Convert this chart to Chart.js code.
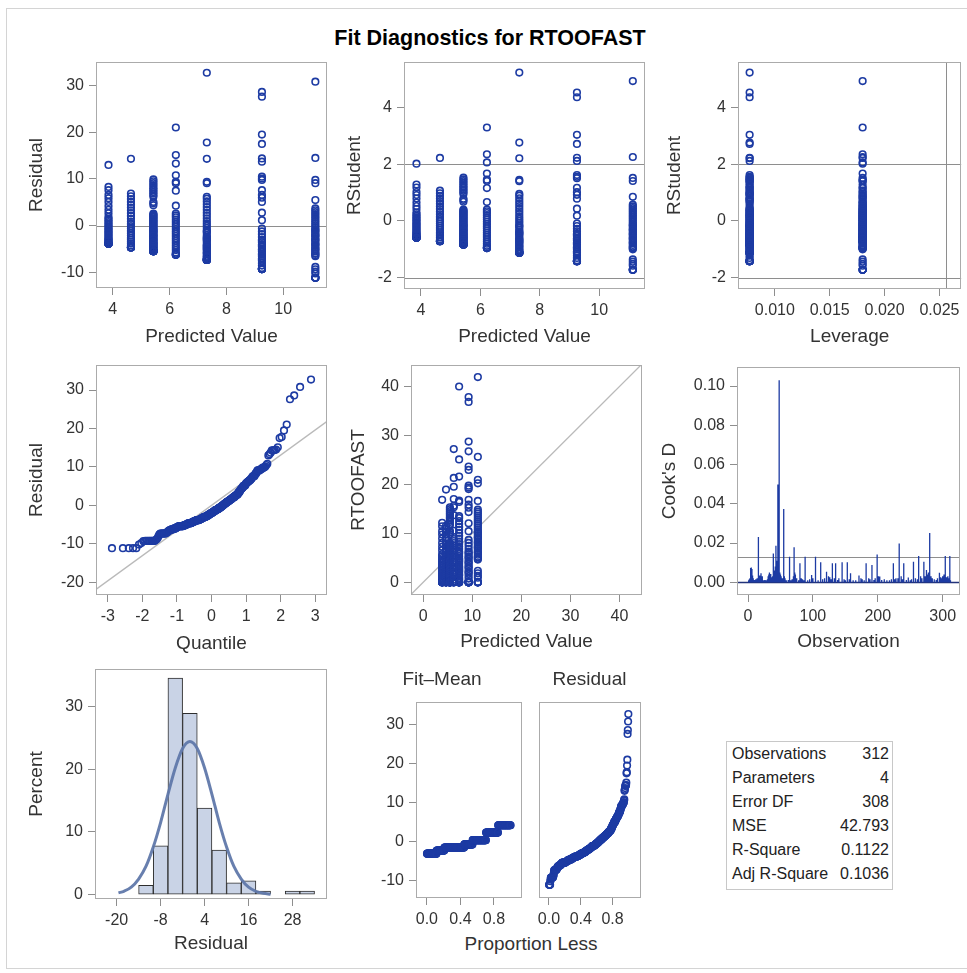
<!DOCTYPE html>
<html><head><meta charset="utf-8">
<script src="https://cdn.jsdelivr.net/npm/chart.js@4.4.0/dist/chart.umd.min.js"></script>
<style>
html,body{margin:0;padding:0;background:#fff;}
body{width:967px;height:973px;position:relative;overflow:hidden;font-family:'Liberation Sans',Arial,Helvetica,sans-serif;}
#frame{position:absolute;left:6px;top:8px;width:966px;height:961px;border:1px solid #d4d4d4;box-sizing:border-box;}
#title{position:absolute;left:0;width:980px;top:25px;text-align:center;font-weight:bold;font-size:21.5px;line-height:26px;color:#000;}
canvas{position:absolute;}
.lbl{position:absolute;font-size:19px;color:#333;white-space:nowrap;transform:translate(-50%,-50%);}
#stats{position:absolute;left:726px;top:741px;width:167px;height:149px;border:1px solid #c8c8c8;box-sizing:border-box;font-size:16px;color:#222;}
#stats table{border-collapse:collapse;width:100%;}
#stats td{height:24px;padding:0;line-height:24px;white-space:nowrap;}
#stats td.l{padding-left:5px;text-align:left;}
#stats td.v{padding-right:3px;text-align:right;}
</style></head>
<body>
<div id="frame"></div>
<div id="title">Fit Diagnostics for RTOOFAST</div>
<div id="stats"><table id="statTable"></table></div>
<div class="lbl" style="left:531px;top:944px;">Proportion Less</div>
<script>
// ---------------- DATA ----------------
const predictedGroups = [3.85, 4.64, 5.43, 6.22, 7.31, 9.25, 11.13];
const leverageGroups  = [0.018, 0.018, 0.0077, 0.018, 0.0077, 0.0077, 0.018];
const residG1 = [13.0, 8.3, 7.6, 6.6, 5.9, 5.1, 4.2, 3.4, 2.7, 1.9, 1.5, 1.1, 0.8, 0.4, 0.1, -0.3, -0.6, -0.9, -1.2, -1.5,
  -1.8, -2.1, -2.4, -2.7, -2.9, -3.1, -3.3, -3.5, -3.7, -3.85, -3.85, -3.85, -3.85, -3.85, -3.85, -3.85];
const residG2 = [14.3, 6.9, 6.3, 5.7, 5.1, 4.5, 3.9, 3.3, 2.7, 2.1, 1.5, 0.9, 0.4, -0.1, -0.6, -1.1, -1.6, -2.1, -2.6,
  -3.0, -3.4, -3.8, -4.2, -4.64, -4.64, -4.64, -4.64, -4.64, -4.64];
const residG3 = [9.9, 9.5, 9.1, 8.7, 8.3, 7.9, 7.6, 7.2, 6.9, 6.5, 6.2, 5.1, 4.8, 4.4,
  2.6, 2.4, 2.2, 2.0, 1.8, 1.6, 1.4, 1.2, 1.0, 0.8, 0.6, 0.4, 0.2, 0.0, -0.2, -0.4, -0.6, -0.8, -1.0, -1.2,
  -1.4, -1.6, -1.8, -2.0, -2.2, -2.4, -2.6, -2.8, -3.0, -3.2, -3.4, -3.6, -3.8, -4.0, -4.2, -4.4, -4.6, -4.8, -5.0, -5.1,
  -1.1, -2.1, -2.9, -3.5, -3.9, -4.3, -4.7, -5.2, -5.3, -5.43, -5.43, -5.43, -5.43, -5.43, -5.43, -5.43, -5.43, -5.43, -5.43, -5.43];
const residG4 = [21.0, 15.1, 13.3, 10.8, 9.4, 9.1, 7.5, 4.3, 2.6, 2.2, 1.8, 1.3, 0.8, 0.3, -0.2, -0.7, -1.2, -1.7, -2.2, -2.7,
  -3.2, -3.7, -4.2, -4.7, -5.2, -5.7, -6.0, -6.22, -6.22, -6.22, -6.22];
const residG5 = [32.7, 17.8, 14.3, 9.4, 9.1, 6.2, 5.8, 5.2, 4.6, 4.0, 3.4, 2.8, 2.2, 1.6, 1.0, 0.5, 0.0, -0.5, -1.0, -1.5,
  -2.0, -2.4, -2.8, -3.2, -3.6, -4.0, -4.4, -4.8, -5.2, -5.6, -6.0, -6.4, -6.8, -7.0, -3.0, -4.2, -5.0, -5.8, -6.6, -1.2,
  -2.6, -4.6, -7.31, -7.31, -7.31, -7.31, -7.31, -7.31, -7.31, -7.31];
const residG6 = [28.6, 27.6, 19.5, 17.5, 14.4, 13.7, 10.5, 10.1, 9.8, 7.6, 6.6, 6.0, 5.1, 2.8, 1.2, -0.6, -1.2, -1.8, -2.4, -3.0,
  -3.5, -4.0, -4.5, -5.0, -5.5, -6.0, -6.5, -7.0, -7.5, -8.0, -8.5, -9.0, -3.2, -4.2, -5.2, -6.2, -7.2,
  -9.25, -9.25, -9.25, -9.25, -9.25, -9.25, -9.25, -9.25];
const residG7 = [30.8, 14.5, 9.8, 9.1, 5.5, 3.7, 3.3, 2.9, 2.5, 2.1, 1.7, 1.3, 0.9, 0.5, 0.1, -0.3, -0.7, -1.1, -1.5, -1.9,
  -2.3, -2.7, -3.1, -3.5, -3.9, -4.3, -4.7, -5.1, -5.5, -5.9, -6.3, -6.5, -1.0, -2.0, -3.0, -4.0, -5.0, -6.0, -8.8, -9.3,
  -9.8, -10.2, -11.13, -11.13, -11.13, -11.13, -11.13];
const residualGroups = [residG1, residG2, residG3, residG4, residG5, residG6, residG7];

const statLabels = ['Observations', 'Parameters', 'Error DF', 'MSE', 'R-Square', 'Adj R-Square'];
const statValues = ['312', '4', '308', '42.793', '0.1122', '0.1036'];
const nObs = 312, nParm = 4, mse = 42.793;

const histMid = [-12, -8, -4, 0, 4, 8, 12, 16, 20, 24, 28, 32];
const histPct = [1.5, 7.8, 34.5, 28.9, 13.8, 7.1, 1.9, 2.2, 0.6, 0, 0.6, 0.6];
const curveX = [-19.5, -18, -16, -14, -12, -10, -8, -6, -4, -2, 0, 2, 4, 6, 8, 10, 12, 14, 16, 18, 20, 22];
const curveY = [0.3, 0.55, 1.2, 2.5, 4.5, 7.6, 11.5, 16.0, 20.2, 23.3, 24.4, 23.3, 20.2, 16.0, 11.5, 7.6, 4.5, 2.5, 1.2, 0.55, 0.23, 0.09];

const cooksObs = [1,2,3,4,5,6,7,8,9,10,12,14,16,17,18,19,20,22,24,26,28,30,31,32,33,34,35,36,37,38,39,40,41,42,43,44,45,46,47,48,
  49,50,51,52,53,54,55,56,57,59,62,64,66,68,70,71,72,73,75,78,80,82,84,86,88,92,95,98,100,104,108,112,115,118,121,124,126,128,130,133,
  135,138,140,145,148,150,153,156,158,162,166,171,174,176,179,182,186,188,191,194,196,199,201,203,206,210,214,218,221,224,226,228,231,233,236,238,240,244,
  247,250,252,255,258,261,263,266,268,271,273,275,277,278,280,282,284,287,290,292,295,297,299,300,302,304,306,308,309,311,312];
const cooksD = [0.001,0.0015,0.002,0.0072,0.0075,0.0068,0.0035,0.002,0.001,0.0012,0.0015,0.002,0.023,0.002,0.0035,0.0025,0.0046,0.003,0.001,0.0012,
  0.001,0.0015,0.003,0.004,0.005,0.003,0.0042,0.002,0.0025,0.003,0.0147,0.006,0.004,0.008,0.0186,0.011,0.009,0.0498,0.006,0.103,
  0.005,0.004,0.003,0.002,0.0015,0.002,0.0373,0.003,0.002,0.001,0.0012,0.013,0.001,0.0015,0.003,0.0178,0.005,0.004,0.002,0.001,
  0.0097,0.002,0.0015,0.001,0.013,0.001,0.0015,0.0037,0.002,0.013,0.001,0.0102,0.0015,0.002,0.0054,0.003,0.0025,0.0015,0.0097,0.002,
  0.0097,0.0012,0.002,0.0102,0.0015,0.001,0.0102,0.0015,0.0046,0.001,0.001,0.0034,0.002,0.0015,0.001,0.0097,0.002,0.0015,0.0088,0.0012,
  0.002,0.0142,0.003,0.0029,0.0012,0.0015,0.001,0.001,0.0015,0.0097,0.0015,0.002,0.002,0.0198,0.003,0.0015,0.0097,0.0012,
  0.0024,0.001,0.0015,0.0105,0.002,0.0015,0.0134,0.003,0.002,0.0105,0.003,0.0063,0.004,0.005,0.0251,0.003,0.002,0.0015,0.0012,0.002,
  0.0049,0.0025,0.002,0.003,0.004,0.0134,0.0025,0.003,0.002,0.0134,0.001];

const ticksPred = [4, 6, 8, 10];
const ticksResid = [-10, 0, 10, 20, 30];
const ticksRStud = [-2, 0, 2, 4];
const ticksLev = [0.010, 0.015, 0.020, 0.025];
const ticksQuant = [-3, -2, -1, 0, 1, 2, 3];
const ticksQQResid = [-20, -10, 0, 10, 20, 30];
const ticksObsPred = [0, 10, 20, 30, 40];
const ticksObsNo = [0, 100, 200, 300];
const ticksCook = [0, 0.02, 0.04, 0.06, 0.08, 0.10];
const ticksHistX = [-20, -8, 4, 16, 28];
const ticksPct = [0, 10, 20, 30];
const ticksProp = [0, 0.4, 0.8];
const ticksSpread = [-10, 0, 10, 20, 30];

// ---------------- derived quantities ----------------
const rootMse = Math.sqrt(mse);
function rstudent(e, h) {
  const r = e / (rootMse * Math.sqrt(1 - h));
  return r * Math.sqrt((nObs - nParm - 1) / (nObs - nParm - r * r));
}
function qnorm(p) {
  const a=[-3.969683028665376e+01,2.209460984245205e+02,-2.759285104469687e+02,1.383577518672690e+02,-3.066479806614716e+01,2.506628277459239e+00];
  const b=[-5.447609879822406e+01,1.615858368580409e+02,-1.556989798598866e+02,6.680131188771972e+01,-1.328068155288572e+01];
  const c=[-7.784894002430293e-03,-3.223964580411365e-01,-2.400758277161838e+00,-2.549732539343734e+00,4.374664141464968e+00,2.938163982698783e+00];
  const d=[7.784695709041462e-03,3.224671290700398e-01,2.445134137142996e+00,3.754408661907416e+00];
  const pl=0.02425, ph=1-pl; let q, r;
  if (p < pl) { q=Math.sqrt(-2*Math.log(p)); return (((((c[0]*q+c[1])*q+c[2])*q+c[3])*q+c[4])*q+c[5])/((((d[0]*q+d[1])*q+d[2])*q+d[3])*q+1); }
  if (p <= ph) { q=p-0.5; r=q*q; return (((((a[0]*r+a[1])*r+a[2])*r+a[3])*r+a[4])*r+a[5])*q/(((((b[0]*r+b[1])*r+b[2])*r+b[3])*r+b[4])*r+1); }
  q=Math.sqrt(-2*Math.log(1-p)); return -(((((c[0]*q+c[1])*q+c[2])*q+c[3])*q+c[4])*q+c[5])/((((d[0]*q+d[1])*q+d[2])*q+d[3])*q+1);
}
const ptsResid = [], ptsRStud = [], ptsLev = [], ptsObs = [], allRes = [], allFit = [];
residualGroups.forEach((arr, g) => {
  const p = predictedGroups[g], h = leverageGroups[g];
  arr.forEach(e => {
    const t = rstudent(e, h);
    ptsResid.push({x: p, y: e});
    ptsRStud.push({x: p, y: t});
    ptsLev.push({x: h, y: t});
    ptsObs.push({x: p, y: p + e});
    allRes.push(e); allFit.push(p);
  });
});
const nPts = allRes.length;
const meanFit = allFit.reduce((s, v) => s + v, 0) / nPts;
const sortedRes = allRes.slice().sort((u, v) => u - v);
const sortedFit = allFit.slice().sort((u, v) => u - v);
const ptsQQ = sortedRes.map((e, i) => ({x: qnorm((i + 1 - 0.375) / (nPts + 0.25)), y: e}));
const ptsSpreadRes = sortedRes.map((e, i) => ({x: (i + 0.5) / nPts, y: e}));
const ptsSpreadFit = sortedFit.map((f, i) => ({x: (i + 0.5) / nPts, y: f - meanFit}));
const needles = [];
cooksObs.forEach((o, i) => { needles.push({x: o, y: 0}, {x: o, y: cooksD[i]}, {x: o, y: null}); });

// stats table
const tbl = document.getElementById('statTable');
statLabels.forEach((l, i) => {
  const tr = document.createElement('tr');
  tr.innerHTML = '<td class="l">' + l + '</td><td class="v">' + statValues[i] + '</td>';
  tbl.appendChild(tr);
});

// ---------------- drawing ----------------
Chart.defaults.font.family = "'Liberation Sans', Arial, Helvetica, sans-serif";
Chart.defaults.color = '#333';
Chart.defaults.animation = false;
const MARK = '#1d3ba3';
const GRAYLINE = '#8e8e8e';
const BOX = '#ababab';
const TFS = 19, THALF = TFS * 1.2 / 2;

const framePlugin = {
  id: 'frame',
  beforeDatasetsDraw(chart, args, opts) {
    const {ctx, chartArea: a, scales} = chart;
    ctx.save();
    ctx.beginPath(); ctx.rect(a.left, a.top, a.right - a.left, a.bottom - a.top); ctx.clip();
    (opts.h || []).forEach(l => {
      const y = Math.round(scales.y.getPixelForValue(l.v)) + 0.5;
      ctx.strokeStyle = l.c || GRAYLINE; ctx.lineWidth = l.w || 1;
      ctx.beginPath(); ctx.moveTo(a.left, y); ctx.lineTo(a.right, y); ctx.stroke();
    });
    (opts.v || []).forEach(l => {
      const x = Math.round(scales.x.getPixelForValue(l.v)) + 0.5;
      ctx.strokeStyle = l.c || GRAYLINE; ctx.lineWidth = l.w || 1;
      ctx.beginPath(); ctx.moveTo(x, a.top); ctx.lineTo(x, a.bottom); ctx.stroke();
    });
    ctx.restore();
  },
  afterDraw(chart) {
    const {ctx, chartArea: a} = chart;
    ctx.save();
    ctx.strokeStyle = BOX; ctx.lineWidth = 1;
    ctx.strokeRect(Math.round(a.left) + 0.5, Math.round(a.top) + 0.5, Math.round(a.right - a.left) - 1, Math.round(a.bottom - a.top) - 1);
    ctx.restore();
  }
};
Chart.register(framePlugin);

function axis(o, horizontal) {
  return {
    type: 'linear', position: horizontal ? 'bottom' : 'left', min: o.min, max: o.max,
    display: o.display !== false, offset: false,
    afterBuildTicks: s => { s.ticks = o.ticks.map(v => ({value: v})); },
    afterFit: s => {
      if (horizontal) s.height = o.size; else s.width = o.size;
      s.paddingLeft = 0; s.paddingRight = 0; s.paddingTop = 0; s.paddingBottom = 0;
    },
    ticks: {
      display: o.labels !== false,
      callback: v => (o.fmt ? o.fmt(v) : String(v)),
      font: {size: 16}, color: '#333', padding: horizontal ? 5 : 5,
      maxRotation: 0, minRotation: 0, autoSkip: false
    },
    grid: {drawOnChartArea: false, drawTicks: o.labels !== false, tickLength: 7, color: GRAYLINE, tickColor: GRAYLINE, offset: false},
    border: {display: false},
    title: o.title ? {
      display: true, text: o.title, font: {size: TFS}, color: '#333',
      padding: horizontal ? {top: 0, bottom: o.size - o.tOff - THALF} : {top: o.size - o.tOff - THALF, bottom: 0}
    } : {display: false}
  };
}

function panel(g, type, datasets, xo, yo, plugOpts, titleText) {
  const mL = g.mL, mB = g.mB, mT = g.mT, mR = g.mR;
  const w = Math.round(g.R - g.L + mL + mR), h = Math.round(g.B - g.T + mT + mB);
  const c = document.createElement('canvas');
  c.width = w; c.height = h;
  c.style.left = (g.L - mL) + 'px'; c.style.top = (g.T - mT) + 'px';
  c.style.width = w + 'px'; c.style.height = h + 'px';
  document.body.appendChild(c);
  return new Chart(c, {
    type: type,
    data: {datasets: datasets},
    options: {
      responsive: false, animation: false, devicePixelRatio: 1,
      layout: {padding: {left: 0, top: titleText ? 0 : mT, right: mR, bottom: 0}},
      plugins: {
        legend: {display: false}, tooltip: {enabled: false},
        title: titleText ? {display: true, text: titleText, font: {size: TFS, weight: 'normal'}, color: '#333',
          padding: {top: 18 - THALF, bottom: mT - 2 * THALF - (18 - THALF)}} : {display: false},
        frame: plugOpts || {}
      },
      scales: {x: axis(xo, true), y: axis(yo, false)}
    }
  });
}

const pts = data => ({type: 'scatter', data: data, showLine: false, pointStyle: 'circle', pointRadius: 3.3,
  pointBorderWidth: 1.6, pointBorderColor: MARK, pointBackgroundColor: 'rgba(0,0,0,0)', borderColor: MARK, order: 0});
const refLine = (data, color) => ({type: 'scatter', data: data, showLine: true, pointRadius: 0, borderColor: color, borderWidth: 1.3, order: 5});

const f1 = v => v.toFixed(1), f2 = v => v.toFixed(2), f3 = v => v.toFixed(3);

// Row 1
panel({L: 96, T: 62, R: 327, B: 288, mL: 80, mB: 65, mT: 10, mR: 12}, 'scatter', [pts(ptsResid)],
  {min: 3.41, max: 11.54, ticks: ticksPred, size: 65, title: 'Predicted Value', tOff: 48.7},
  {min: -13.3, max: 35.0, ticks: ticksResid, size: 80, title: 'Residual', tOff: 59},
  {h: [{v: 0}]});
panel({L: 404, T: 62, R: 645, B: 289, mL: 80, mB: 65, mT: 10, mR: 12}, 'scatter', [pts(ptsRStud)],
  {min: 3.43, max: 11.54, ticks: ticksPred, size: 65, title: 'Predicted Value', tOff: 47.7},
  {min: -2.4, max: 5.6, ticks: ticksRStud, size: 80, title: 'RStudent', tOff: 49},
  {h: [{v: 2}, {v: -2}]});
panel({L: 738, T: 62, R: 962, B: 289, mL: 80, mB: 65, mT: 10, mR: 5}, 'scatter', [pts(ptsLev)],
  {min: 0.00664, max: 0.0270, ticks: ticksLev, fmt: f3, size: 65, title: 'Leverage', tOff: 47.7},
  {min: -2.4, max: 5.6, ticks: ticksRStud, size: 80, title: 'RStudent', tOff: 63},
  {h: [{v: 2}, {v: -2}], v: [{v: 2 * nParm / nObs}]});

// Row 2
panel({L: 96, T: 365, R: 327, B: 595, mL: 80, mB: 65, mT: 10, mR: 12}, 'scatter',
  [pts(ptsQQ), refLine([{x: -4, y: -4 * rootMse}, {x: 4, y: 4 * rootMse}], '#bababa')],
  {min: -3.34, max: 3.34, ticks: ticksQuant, size: 65, title: 'Quantile', tOff: 48.3},
  {min: -23.3, max: 36.5, ticks: ticksQQResid, size: 80, title: 'Residual', tOff: 59.3});
panel({L: 411, T: 365, R: 642, B: 595, mL: 80, mB: 65, mT: 10, mR: 12}, 'scatter',
  [pts(ptsObs), refLine([{x: -5, y: -5}, {x: 50, y: 50}], '#bababa')],
  {min: -2.5, max: 44.6, ticks: ticksObsPred, size: 65, title: 'Predicted Value', tOff: 46.7},
  {min: -2.6, max: 44.4, ticks: ticksObsPred, size: 80, title: 'RTOOFAST', tOff: 52});
panel({L: 737, T: 367, R: 960, B: 595, mL: 80, mB: 65, mT: 10, mR: 7}, 'scatter',
  [{type: 'scatter', data: needles, showLine: true, spanGaps: false, pointRadius: 0, borderColor: MARK, borderWidth: 1.3}],
  {min: -17, max: 326.7, ticks: ticksObsNo, size: 65, title: 'Observation', tOff: 46.7},
  {min: -0.0065, max: 0.1097, ticks: ticksCook, fmt: f2, size: 80, title: "Cook's D", tOff: 67},
  {h: [{v: 4 / nObs}, {v: 0, c: '#22337a', w: 1.5}]});

// Row 3
panel({L: 95, T: 669, R: 327, B: 899, mL: 80, mB: 65, mT: 10, mR: 12}, 'bar', [
    {type: 'line', data: curveX.map((x, i) => ({x: x, y: curveY[i]})), borderColor: 'rgba(96,120,170,0.95)', borderWidth: 3,
     pointRadius: 0, cubicInterpolationMode: 'monotone', fill: false, order: 0},
    {type: 'bar', data: histMid.map((x, i) => ({x: x, y: histPct[i]})), backgroundColor: '#c9d3e6', borderColor: '#2e2e2e',
     borderWidth: 1, borderSkipped: false, barPercentage: 1, categoryPercentage: 1, order: 1}
  ],
  {min: -25.9, max: 37.4, ticks: ticksHistX, size: 65, title: 'Residual', tOff: 45},
  {min: -0.68, max: 35.96, ticks: ticksPct, size: 80, title: 'Percent', tOff: 58});
panel({L: 416, T: 702, R: 528, B: 898, mL: 60, mB: 40, mT: 40, mR: 0}, 'scatter', [pts(ptsSpreadFit)],
  {min: -0.13, max: 1.14, ticks: ticksProp, fmt: f1, size: 40},
  {min: -14.5, max: 35.8, ticks: ticksSpread, size: 60},
  {}, 'Fit\u2013Mean');
panel({L: 533, T: 702, R: 646, B: 898, mL: 0, mB: 40, mT: 40, mR: 0}, 'scatter', [pts(ptsSpreadRes)],
  {min: -0.13, max: 1.15, ticks: ticksProp, fmt: f1, size: 40},
  {min: -14.5, max: 35.8, ticks: ticksSpread, size: 0, display: false},
  {}, 'Residual');
</script>
</body></html>
